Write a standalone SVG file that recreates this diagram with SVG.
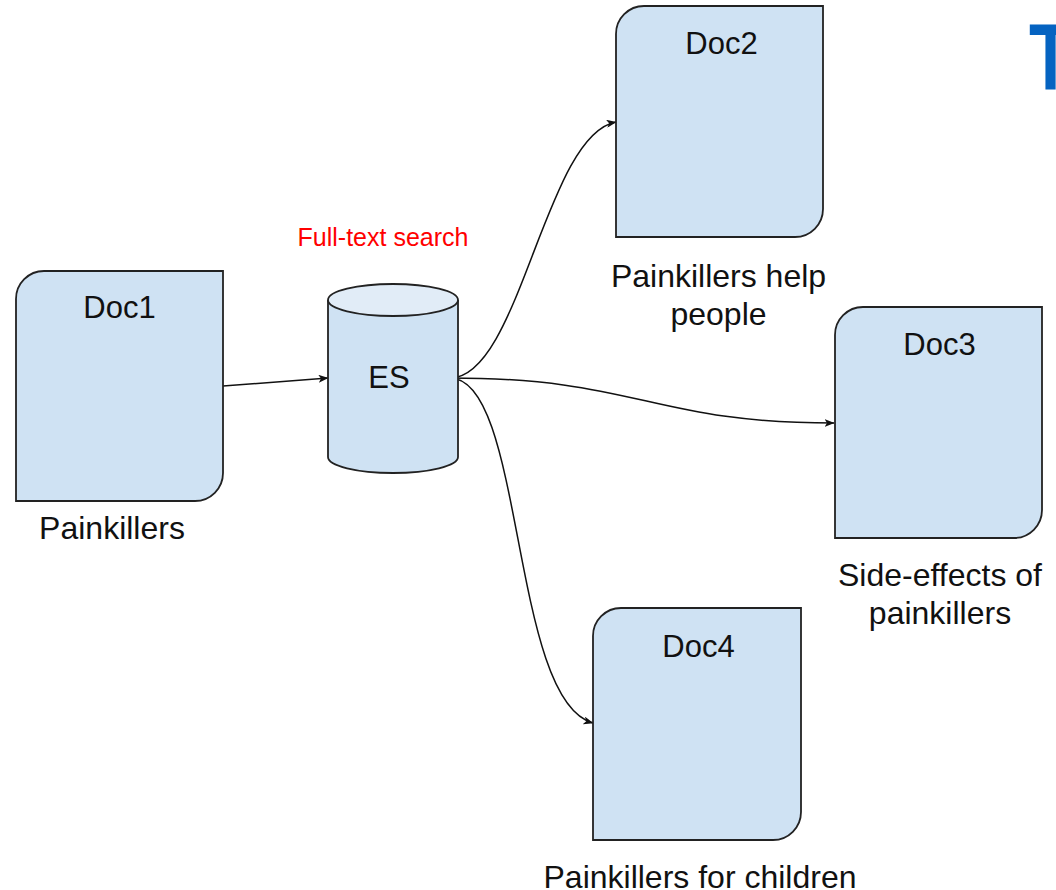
<svg xmlns="http://www.w3.org/2000/svg" width="1056" height="890" viewBox="0 0 1056 890">
<style>
.doc{fill:#cfe2f3;stroke:#222;stroke-width:1.8}
.lbl{font-family:"Liberation Sans",Arial,sans-serif;font-size:31px;fill:#111;text-anchor:middle}
.cap{font-family:"Liberation Sans",Arial,sans-serif;font-size:32px;fill:#111;text-anchor:middle}
.conn{fill:none;stroke:#111;stroke-width:1.5}
</style>
<defs>
<marker id="arr" viewBox="0 0 10 8" refX="9.5" refY="4" markerWidth="10" markerHeight="8" markerUnits="userSpaceOnUse" orient="auto">
<path d="M0,0 L10,4 L0,8 L2.5,4 z" fill="#111"/>
</marker>
</defs>
<rect width="1056" height="890" fill="#fff"/>
<text id="title" transform="translate(1029,90) scale(0.75,1)" x="0" y="0" font-family="Liberation Sans,Arial,sans-serif" font-weight="bold" font-size="94" fill="#0563c1">T</text>
<g id="connectors">
<path class="conn" d="M223,386 L328,378" marker-end="url(#arr)"/>
<path class="conn" d="M450,378 C520,378 545,135 616,122" marker-end="url(#arr)"/>
<path class="conn" d="M450,378 C640,378 650,423 834,423" marker-end="url(#arr)"/>
<path class="conn" d="M450,378 C525,378 510,700 593,723" marker-end="url(#arr)"/>
</g>
<g id="doc1">
<path class="doc" d="M44,271 H223 V473 A28,28 0 0 1 195,501 H16 V299 A28,28 0 0 1 44,271 Z"/>
<text class="lbl" x="119.5" y="318">Doc1</text>
<text class="cap" x="112" y="539">Painkillers</text>
</g>
<g id="es">
<path d="M328,300 V457 A65,16 0 0 0 458,457 V300" fill="#cfe2f3" stroke="#222" stroke-width="1.8"/>
<ellipse cx="393" cy="300" rx="65" ry="16" fill="#e1ecf7" stroke="#222" stroke-width="1.8"/>
<text class="lbl" x="389" y="388">ES</text>
<text x="383" y="246" font-family="Liberation Sans,Arial,sans-serif" font-size="25" fill="#f00" text-anchor="middle">Full-text search</text>
</g>
<g id="doc2">
<path class="doc" d="M644,6 H823 V209 A28,28 0 0 1 795,237 H616 V34 A28,28 0 0 1 644,6 Z"/>
<text class="lbl" x="721.5" y="54">Doc2</text>
<text class="cap" x="718.5" y="287">Painkillers help</text>
<text class="cap" x="718.5" y="325">people</text>
</g>
<g id="doc3">
<path class="doc" d="M863,307 H1042 V510 A28,28 0 0 1 1014,538 H835 V335 A28,28 0 0 1 863,307 Z"/>
<text class="lbl" x="939.5" y="355">Doc3</text>
<text class="cap" x="940" y="586">Side-effects of</text>
<text class="cap" x="940" y="624">painkillers</text>
</g>
<g id="doc4">
<path class="doc" d="M621,608 H801 V812 A28,28 0 0 1 773,840 H593 V636 A28,28 0 0 1 621,608 Z"/>
<text class="lbl" x="698.5" y="657">Doc4</text>
<text class="cap" x="700" y="888">Painkillers for children</text>
</g>
</svg>
